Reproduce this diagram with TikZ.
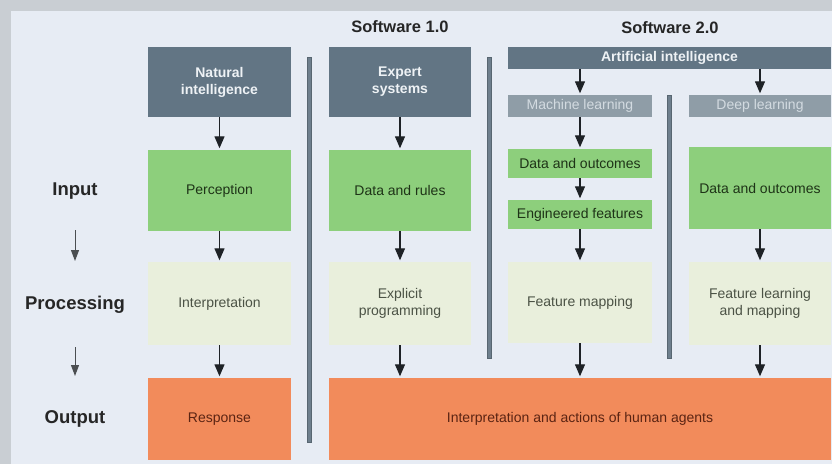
\documentclass[tikz,border=0pt]{standalone}
\usepackage{fontspec}
\setmainfont{Liberation Sans}
\usetikzlibrary{arrows.meta}
\definecolor{outergray}{HTML}{C9CED3}
\definecolor{panel}{HTML}{E7ECF4}
\definecolor{darkbox}{HTML}{627584}
\definecolor{darktext}{HTML}{EEF2F5}
\definecolor{subbox}{HTML}{8F9DA7}
\definecolor{subtext}{HTML}{D3DBE1}
\definecolor{greenbox}{HTML}{8DCF7C}
\definecolor{greentext}{HTML}{1E3317}
\definecolor{palebox}{HTML}{E9EFDC}
\definecolor{paletext}{HTML}{4B5245}
\definecolor{orangebox}{HTML}{F28B5B}
\definecolor{orangetext}{HTML}{5B2413}
\definecolor{sepcol}{HTML}{6E7F8D}
\definecolor{arrowcol}{HTML}{1E2226}
\tikzset{
  box/.style={rectangle, inner sep=0pt, align=center, font=\fontsize{14}{17}\selectfont},
  darkbx/.style={box, fill=darkbox, text=darktext, font=\bfseries\fontsize{14}{17}\selectfont},
  subbx/.style={box, fill=subbox, text=subtext},
  greenbx/.style={box, fill=greenbox, text=greentext},
  palebx/.style={box, fill=palebox, text=paletext},
  orangebx/.style={box, fill=orangebox, text=orangetext},
  header/.style={font=\bfseries\fontsize{16.5}{19}\selectfont, text=black!85, inner sep=0pt},
  rowlabel/.style={font=\bfseries\fontsize{18.5}{21}\selectfont, text=black!85, inner sep=0pt},
  flow/.style={draw=arrowcol, line width=1.3pt, -{Triangle[width=10pt,length=12pt]}, shorten >=1.5pt},
  sideflow/.style={draw=arrowcol!80, line width=1pt, -{Triangle[width=8pt,length=11pt]}},
  seprule/.style={fill=sepcol, draw=sepcol!80!black, line width=0.3pt}
}
\begin{document}
\begin{tikzpicture}[x=1pt,y=-1pt]
\useasboundingbox (0,0) rectangle (832,464);
\fill[outergray] (0,0) rectangle (832,464);
\fill[panel] (11,11) rectangle (832,464);

% headers
\node[header] (h1) at (400,27) {Software 1.0};
\node[header] (h2) at (670,28) {Software 2.0};

% row labels
\node[rowlabel] (rin) at (75,191) {Input};
\node[rowlabel] (rproc) at (75,305) {Processing};
\node[rowlabel] (rout) at (75,419) {Output};
\coordinate (a1s) at (75,230);
\coordinate (a1e) at (75,261);
\coordinate (a2s) at (75,347);
\coordinate (a2e) at (75,376);
\draw[sideflow] (a1s) -- (a1e);
\draw[sideflow] (a2s) -- (a2e);

% separators
\filldraw[seprule] (307,57) rectangle (311,442);
\filldraw[seprule] (487,57) rectangle (491,358);
\filldraw[seprule] (667,95) rectangle (671,358);

% column 1: natural intelligence
\node[darkbx, minimum width=143pt, minimum height=70pt] (ni) at (219.5,82) {Natural\\intelligence};
\node[greenbx, minimum width=143pt, minimum height=81pt] (perc) at (219.5,190.5) {Perception};
\node[palebx, minimum width=143pt, minimum height=83pt] (interp) at (219.5,303.5) {Interpretation};
\node[orangebx, minimum width=143pt, minimum height=82pt] (resp) at (219.5,419) {Response};

% column 2: expert systems
\node[darkbx, minimum width=142pt, minimum height=70pt] (es) at (400,82) {Expert\\systems};
\node[greenbx, minimum width=142pt, minimum height=81pt] (dr) at (400,190.5) {Data and rules};
\node[palebx, minimum width=142pt, minimum height=83pt] (ep) at (400,303.5) {Explicit\\programming};

% big output
\node[orangebx, minimum width=502pt, minimum height=82pt] (out) at (580,419) {Interpretation and actions of human agents};

% software 2.0
\node[darkbx, minimum width=323pt, minimum height=22pt] (ai) at (669.5,58) {Artificial intelligence};
\node[subbx, minimum width=144pt, minimum height=22pt] (ml) at (580,106) {Machine learning};
\node[subbx, minimum width=142pt, minimum height=22pt] (dl) at (760,106) {Deep learning};
\node[greenbx, minimum width=144pt, minimum height=29pt] (mldo) at (580,163.5) {Data and outcomes};
\node[greenbx, minimum width=144pt, minimum height=29pt] (ef) at (580,214.5) {Engineered features};
\node[palebx, minimum width=144pt, minimum height=81pt] (fm) at (580,302.5) {Feature mapping};
\node[greenbx, minimum width=142pt, minimum height=82pt] (dldo) at (760,188) {Data and outcomes};
\node[palebx, minimum width=142pt, minimum height=83pt] (flm) at (760,303.5) {Feature learning\\and mapping};

% arrows column 1
\draw[flow] (ni) -- (perc);
\draw[flow] (perc) -- (interp);
\draw[flow] (interp) -- (resp);
% arrows column 2
\draw[flow] (es) -- (dr);
\draw[flow] (dr) -- (ep);
\draw[flow] (ep.south) -- (ep.south |- out.north);
% machine learning
\draw[flow] (ai.south -| ml) -- (ml);
\draw[flow] (ml) -- (mldo);
\draw[flow] (mldo) -- (ef);
\draw[flow] (ef) -- (fm);
\draw[flow] (fm.south) -- (fm.south |- out.north);
% deep learning
\draw[flow] (ai.south -| dl) -- (dl);
\draw[flow] (dldo) -- (flm);
\draw[flow] (flm.south) -- (flm.south |- out.north);
\end{tikzpicture}
\end{document}
